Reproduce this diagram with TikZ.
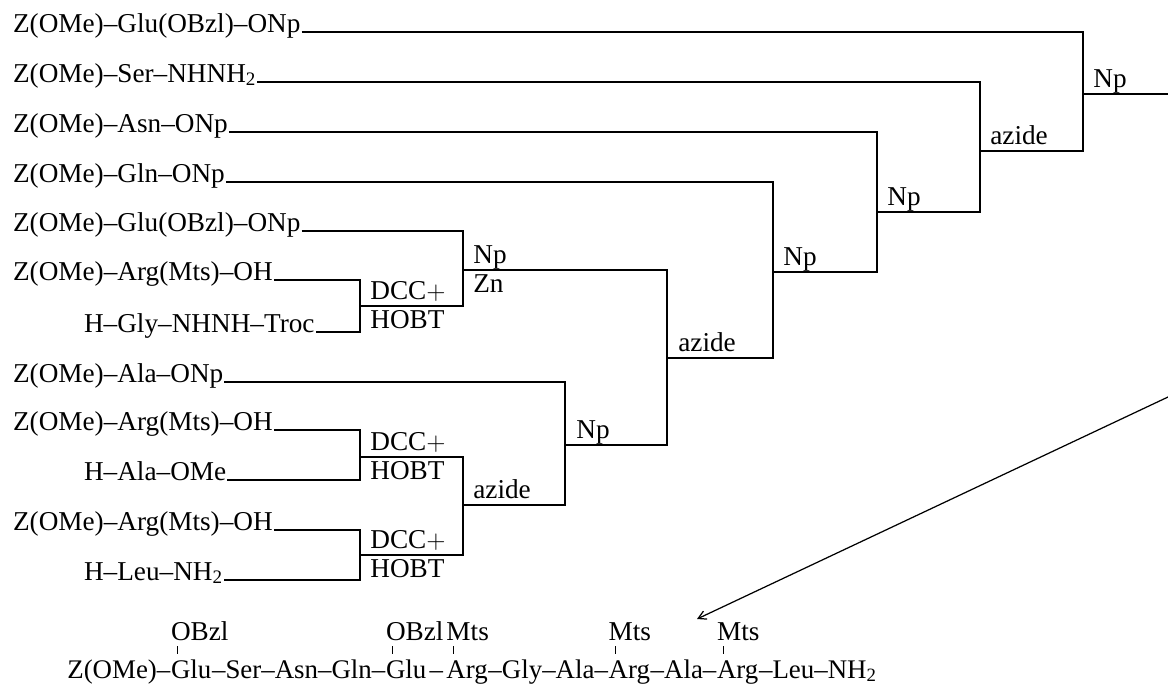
\documentclass[tikz,border=0pt]{standalone}
\usepackage{fontspec}
\setmainfont{Liberation Serif}
\usepackage{tikz}
\usetikzlibrary{arrows.meta,positioning}

\begin{document}
\begin{tikzpicture}[x=0.02cm,y=-0.02cm,>={Straight Barb[length=4.5pt,width=5pt]},
    every node/.style={font=\fontsize{15.5}{18}\selectfont},
    reagent/.style={anchor=base west,inner xsep=0.4pt,inner ysep=0pt},
    cond/.style={anchor=base west,inner sep=0pt},
    link/.style={line width=0.7pt},
    residue/.style={anchor=base west,inner sep=0pt,font=\fontsize{15.3}{18}\selectfont},
    side/.style={anchor=base west,inner sep=0pt}]
    \useasboundingbox (0,0) rectangle (1168,684);

    % starting materials
    \node[reagent] (glu1) at (12,32) {Z(OMe)--Glu(OBzl)--ONp};
    \node[reagent] (ser) at (12,82) {Z(OMe)--Ser--NHNH\textsubscript{2}};
    \node[reagent] (asn) at (12,132) {Z(OMe)--Asn--ONp};
    \node[reagent] (gln) at (12,182) {Z(OMe)--Gln--ONp};
    \node[reagent] (glu2) at (12,231) {Z(OMe)--Glu(OBzl)--ONp};
    \node[reagent] (arg1) at (12,280) {Z(OMe)--Arg(Mts)--OH};
    \node[reagent] (gly) at (83,332) {H--Gly--NHNH--Troc};
    \node[reagent] (ala) at (12,382) {Z(OMe)--Ala--ONp};
    \node[reagent] (arg2) at (12,430) {Z(OMe)--Arg(Mts)--OH};
    \node[reagent] (alaome) at (83,480) {H--Ala--OMe};
    \node[reagent] (arg3) at (12,530) {Z(OMe)--Arg(Mts)--OH};
    \node[reagent] (leu) at (83,580) {H--Leu--NH\textsubscript{2}};

    % coupling points
    \coordinate (dccA) at (360,306);
    \coordinate (npzn) at (463,270);
    \coordinate (azC) at (667,358);
    \coordinate (npD) at (773,272);
    \coordinate (npE) at (877,212);
    \coordinate (azF) at (980,151);
    \coordinate (npH) at (1083,94);
    \coordinate (out) at (1168,94);
    \coordinate (dccB) at (360,457);
    \coordinate (dccC) at (360,555);
    \coordinate (azJ) at (463,505);
    \coordinate (npG) at (565,445);

    \draw[link] (arg1.base east) -| (dccA) |- (gly.base east);
    \draw[link] (glu2.base east) -| (npzn) |- (dccA);
    \draw[link] (npzn) -| (azC) |- (npG);
    \draw[link] (gln.base east) -| (npD) |- (azC);
    \draw[link] (asn.base east) -| (npE) |- (npD);
    \draw[link] (ser.base east) -| (azF) |- (npE);
    \draw[link] (glu1.base east) -| (npH) |- (azF);
    \draw[link] (npH) -- (out);
    \draw[link] (ala.base east) -| (npG) |- (azJ);
    \draw[link] (arg2.base east) -| (dccB) |- (alaome.base east);
    \draw[link] (arg3.base east) -| (dccC) |- (leu.base east);
    \draw[link] (dccB) -| (azJ) |- (dccC);

    % conditions
    \node[cond] (dccA1) at ([shift={(10,-7)}]dccA) {DCC$+$};
    \node[cond] (dccA2) at ([shift={(10,22)}]dccA) {HOBT};
    \node[cond] (dccB1) at ([shift={(10,-7)}]dccB) {DCC$+$};
    \node[cond] (dccB2) at ([shift={(10,22)}]dccB) {HOBT};
    \node[cond] (dccC1) at ([shift={(10,-7)}]dccC) {DCC$+$};
    \node[cond] (dccC2) at ([shift={(10,22)}]dccC) {HOBT};
    \node[cond] (npznA) at ([shift={(10,-7)}]npzn) {Np};
    \node[cond] (npznB) at ([shift={(10,22)}]npzn) {Zn};
    \node[cond] (azCl) at ([shift={(11,-7)}]azC) {azide};
    \node[cond] (npDl) at ([shift={(10,-7)}]npD) {Np};
    \node[cond] (npEl) at ([shift={(10,-7)}]npE) {Np};
    \node[cond] (azFl) at ([shift={(10,-7)}]azF) {azide};
    \node[cond] (npHl) at ([shift={(10,-7)}]npH) {Np};
    \node[cond] (azJl) at ([shift={(10,-7)}]azJ) {azide};
    \node[cond] (npGl) at ([shift={(11,-7)}]npG) {Np};

    % protected product
    \node[residue] (zome) at (67,678) {Z(OMe)--};
    \node[residue] (gluA) at (zome.base east) {Glu};
    \node[residue] (midA) at (gluA.base east) {--Ser--Asn--Gln--};
    \node[residue] (gluB) at (midA.base east) {Glu};
    \node[residue] (midB) at (gluB.base east) {\kern1.5pt--\kern1.5pt};
    \node[residue] (argA) at (midB.base east) {Arg};
    \node[residue] (midC) at (argA.base east) {--Gly--Ala--};
    \node[residue] (argB) at (midC.base east) {Arg};
    \node[residue] (midD) at (argB.base east) {--Ala--};
    \node[residue] (argC) at (midD.base east) {Arg};
    \node[residue] (tail) at (argC.base east) {--Leu--NH\textsubscript{2}};

    \node[side] (bzlA) at ([shift={(0,-38)}]gluA.base west) {OBzl};
    \node[side] (bzlB) at ([shift={(0,-38)}]gluB.base west) {OBzl};
    \node[side] (mtsA) at ([shift={(0,-38)}]argA.base west) {Mts};
    \node[side] (mtsB) at ([shift={(0,-38)}]argB.base west) {Mts};
    \node[side] (mtsC) at ([shift={(0,-38)}]argC.base west) {Mts};
    \draw[thin] ([shift={(7,6)}]bzlA.base west) -- ([shift={(7,-24)}]gluA.base west);
    \draw[thin] ([shift={(7,6)}]bzlB.base west) -- ([shift={(7,-24)}]gluB.base west);
    \draw[thin] ([shift={(7,6)}]mtsA.base west) -- ([shift={(7,-24)}]argA.base west);
    \draw[thin] ([shift={(7,6)}]mtsB.base west) -- ([shift={(7,-24)}]argB.base west);
    \draw[thin] ([shift={(7,6)}]mtsC.base west) -- ([shift={(7,-24)}]argC.base west);

    \coordinate (arrS) at (1168,397);
    \coordinate (arrE) at (697,619);
    \draw[link,->] (arrS) -- (arrE);
\end{tikzpicture}
\end{document}
